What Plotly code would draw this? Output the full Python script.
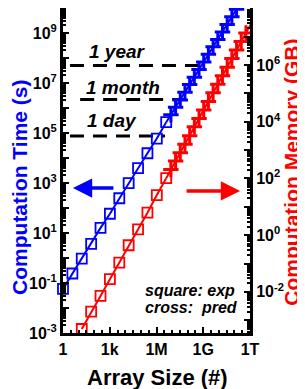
import plotly.graph_objects as go

# ---------------- data ----------------
exp_sizes = [1, 4, 16, 64, 256, 1024, 4096, 16384, 65536, 262144, 1048576, 4194304]
time_exp = [0.058, 0.24, 0.95, 3.7, 16, 59, 245, 980, 3900, 15500, 60000, 270000]

mem_exp_sizes = [16, 64, 256, 1024, 4096, 16384, 65536, 262144, 1048576, 4194304]
mem_exp = [4.9e-4, 2.0e-3, 7.2e-3, 2.8e-2, 0.107, 0.44, 1.6, 6.2, 26, 102]

pred_sizes = [8388608, 16777216, 33554432, 67108864, 134217728, 268435456,
              536870912, 1073741824, 2147483648, 4294967296, 8589934592,
              17179869184, 34359738368, 68719476736, 137438953472,
              274877906944, 549755813888, 1099511627776]
time_pred = [5.4e5, 1.07e6, 2.1e6, 4.3e6, 8.7e6, 1.7e7, 3.5e7, 6.9e7, 1.4e8,
             2.8e8, 5.5e8, 1.1e9, 2.2e9, 4.5e9, 8.9e9, 1.8e10, 3.6e10, 7.2e10]
mem_pred = [205, 410, 810, 1.6e3, 3.2e3, 6.6e3, 1.3e4, 2.6e4, 5.2e4, 1.05e5,
            2.1e5, 4.2e5, 8.3e5, 1.7e6, 3.4e6, 6.8e6, 1.35e7, 2.7e7]

# reference durations (s) and extent of their dashed lines (array size)
ref_labels = ["1 year", "1 month", "1 day"]
ref_times = [5.0e7, 2.2e6, 7.5e4]
ref_x_start = [2.8, 12.6, 2.8]
ref_x_end = [1.7e9, 9.0e7, 3.5e6]

x_tickvals = [1, 1e3, 1e6, 1e9, 1e12]
x_ticktext = ["1", "1k", "1M", "1G", "1T"]
x_minor = [10 ** (k / 2) for k in range(0, 25)]

y1_tickvals = [10.0 ** e for e in range(-3, 11)]
y1_ticktext = [("10<sup>%d</sup>" % e) if e % 2 else "" for e in range(-3, 11)]
y2_tickvals = [10.0 ** e for e in range(-3, 9)]
y2_ticktext = [("10<sup>%d</sup>" % e) if e % 2 == 0 else "" for e in range(-3, 9)]

BLUE = "#0000FF"
RED = "#FF0000"
FONT = "Liberation Sans, Arial, sans-serif"

fig = go.Figure()

# reference dashed lines
for t, xs, xe in zip(ref_times, ref_x_start, ref_x_end):
    fig.add_trace(go.Scatter(x=[xs, xe], y=[t, t], mode="lines",
                             line=dict(color="black", width=3, dash="14px,9px"),
                             showlegend=False, hoverinfo="skip"))

sq = dict(symbol="square-open", size=10, line=dict(width=1.8))
cr = dict(symbol="cross-thin", size=11, line=dict(width=3))

fig.add_trace(go.Scatter(x=exp_sizes, y=time_exp, mode="lines+markers",
                         line=dict(color=BLUE, width=2), marker=dict(color=BLUE, **sq),
                         cliponaxis=False, showlegend=False))
fig.add_trace(go.Scatter(x=[exp_sizes[-1]] + pred_sizes, y=[time_exp[-1]] + time_pred,
                         mode="lines", line=dict(color=BLUE, width=2), showlegend=False))
fig.add_trace(go.Scatter(x=pred_sizes, y=time_pred, mode="markers",
                         marker=dict(color=BLUE, line_color=BLUE, **cr), showlegend=False))

fig.add_trace(go.Scatter(x=mem_exp_sizes, y=mem_exp, mode="lines+markers", yaxis="y2",
                         line=dict(color=RED, width=2), marker=dict(color=RED, **sq),
                         cliponaxis=False, showlegend=False))
fig.add_trace(go.Scatter(x=[mem_exp_sizes[-1]] + pred_sizes, y=[mem_exp[-1]] + mem_pred,
                         yaxis="y2", mode="lines", line=dict(color=RED, width=2),
                         showlegend=False))
fig.add_trace(go.Scatter(x=pred_sizes, y=mem_pred, mode="markers", yaxis="y2",
                         marker=dict(color=RED, line_color=RED, **cr), showlegend=False))

bold = dict(family=FONT, weight="bold")


def note(text, x, y, size, color, xanchor="center", angle=0):
    return dict(text=text, xref="paper", yref="paper", x=x, y=y,
                xanchor=xanchor, yanchor="middle", textangle=angle,
                showarrow=False, font=dict(size=size, color=color, **bold))


annotations = []
for txt, px, py in zip(ref_labels, [0.289, 0.321, 0.262], [0.865, 0.754, 0.655]):
    annotations.append(note("<i>%s</i>" % txt, px, py, 19, "black"))
annotations.append(note("<i>square: exp</i>", 0.428, 0.132, 16, "black", xanchor="left"))
annotations.append(note("<i>cross:  pred</i>", 0.428, 0.077, 16, "black", xanchor="left"))
annotations.append(note("Computation Time (s)", -0.236, 0.449, 21, BLUE, angle=-90))
annotations.append(note("Computation Memory (GB)", 1.222, 0.495, 21, RED, angle=-90))
annotations.append(note("Array Size (#)", 0.503, -0.138, 22, "black"))
# arrows
annotations.append(dict(x=0.053, y=0.446, xref="paper", yref="paper", ax=42, ay=0,
                        showarrow=True, arrowhead=2, arrowsize=1.1, arrowwidth=3.5,
                        arrowcolor=BLUE, text=""))
annotations.append(dict(x=0.947, y=0.437, xref="paper", yref="paper", ax=-55, ay=0,
                        showarrow=True, arrowhead=2, arrowsize=1.1, arrowwidth=3.5,
                        arrowcolor=RED, text=""))

axis_common = dict(showgrid=False, zeroline=False, automargin=False,
                   showline=True, linecolor="black", linewidth=3,
                   ticks="inside", ticklen=6, tickwidth=2, tickcolor="black",
                   tickfont=dict(size=16, **bold))
minor_log = dict(dtick="D1", ticks="inside", ticklen=3, tickwidth=1.5,
                 tickcolor="black", showgrid=False)

# the page body offsets the figure by 8 px; margins compensate for it
fig.update_layout(
    width=305, height=389,
    margin=dict(l=55, r=63, t=0, b=64, autoexpand=False),
    plot_bgcolor="white", paper_bgcolor="white",
    font=dict(family=FONT, color="black"),
    annotations=annotations,
    xaxis=dict(type="log", range=[0, 12], mirror=True,
               tickvals=x_tickvals, ticktext=x_ticktext,
               minor=dict(tickvals=x_minor, ticks="inside", ticklen=3, tickwidth=1.5,
                          tickcolor="black", showgrid=False),
               **axis_common),
    yaxis=dict(type="log", range=[-3, 10],
               tickvals=y1_tickvals, ticktext=y1_ticktext,
               minor=minor_log, **axis_common),
    yaxis2=dict(type="log", range=[-3.45, 8.01], overlaying="y", side="right",
                tickvals=y2_tickvals, ticktext=y2_ticktext,
                minor=minor_log, **axis_common),
)

fig.write_html("out.html")
